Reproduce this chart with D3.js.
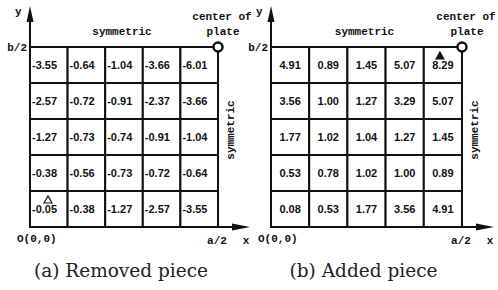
<!DOCTYPE html>
<html lang="en">
<head>
    <meta charset="UTF-8">
    <title>Removed and added piece</title>
    <script src="https://d3js.org/d3.v7.min.js"></script>
    <style>
        body { margin: 0; background: #fff; }
        .cell-text { font-family: "Liberation Sans", Arial, sans-serif; font-size: 11px; font-weight: bold; fill: #111; }
        .mono { font-family: "Liberation Mono", "DejaVu Sans Mono", monospace; font-size: 11px; font-weight: bold; fill: #111; }
        .caption { font-family: "DejaVu Serif", "Liberation Serif", serif; font-size: 18.5px; fill: #222; }
    </style>
</head>
<body>
    <svg id="chart"></svg>
    <script>
        // cell values, top row (y = b/2) first, left column (x = 0) first
        var colIds = [0, 1, 2, 3, 4];
        var rowIds = [0, 1, 2, 3, 4];
        var removedValues = [
            [-3.55, -0.64, -1.04, -3.66, -6.01],
            [-2.57, -0.72, -0.91, -2.37, -3.66],
            [-1.27, -0.73, -0.74, -0.91, -1.04],
            [-0.38, -0.56, -0.73, -0.72, -0.64],
            [-0.05, -0.38, -1.27, -2.57, -3.55]
        ];
        var addedValues = [
            [4.91, 0.89, 1.45, 5.07, 8.29],
            [3.56, 1.00, 1.27, 3.29, 5.07],
            [1.77, 1.02, 1.04, 1.27, 1.45],
            [0.53, 0.78, 1.02, 1.00, 0.89],
            [0.08, 0.53, 1.77, 3.56, 4.91]
        ];
        var captions = ['(a) Removed piece', '(b) Added piece'];

        var width = 498, height = 290;
        var svg = d3.select('#chart')
            .attr('width', width)
            .attr('height', height);

        var panels = [
            { values: removedValues, x0: 30, x1: 218, align: 'start', marker: { row: 4, col: 0, filled: false }, caption: captions[0] },
            { values: addedValues, x0: 271, x1: 462, align: 'middle', marker: { row: 0, col: 4, filled: true }, caption: captions[1] }
        ];
        var gridTop = 47, gridBottom = 227;

        panels.forEach(function (p) {
            var g = svg.append('g');
            var xScale = d3.scaleBand().domain(colIds).range([p.x0, p.x1]);
            var yScale = d3.scaleBand().domain(rowIds).range([gridTop, gridBottom]);

            // cells
            var cells = [];
            p.values.forEach(function (row, r) {
                row.forEach(function (v, c) { cells.push({ r: r, c: c, v: v }); });
            });

            g.selectAll('rect.cell')
                .data(cells)
                .enter()
                .append('rect')
                .attr('x', d => xScale(d.c))
                .attr('y', d => yScale(d.r))
                .attr('width', xScale.bandwidth())
                .attr('height', yScale.bandwidth())
                .attr('fill', '#fff')
                .attr('stroke', '#111')
                .attr('stroke-width', 2);

            g.selectAll('text.cell-text')
                .data(cells)
                .enter()
                .append('text')
                .attr('class', 'cell-text')
                .attr('x', d => p.align === 'start' ? xScale(d.c) + 2 : xScale(d.c) + xScale.bandwidth() / 2)
                .attr('y', d => yScale(d.r) + yScale.bandwidth() / 2 + 4)
                .style('text-anchor', p.align)
                .text(d => d.v.toFixed(2));

            // axes with arrows
            g.append('line')
                .attr('x1', p.x0).attr('y1', gridBottom)
                .attr('x2', p.x0).attr('y2', 14)
                .attr('stroke', '#111').attr('stroke-width', 2);
            g.append('path')
                .attr('d', 'M' + (p.x0 - 3.5) + ',22 L' + p.x0 + ',6 L' + (p.x0 + 3.5) + ',22 Z')
                .attr('fill', '#111');

            g.append('line')
                .attr('x1', p.x0).attr('y1', gridBottom)
                .attr('x2', p.x1 + 24).attr('y2', gridBottom)
                .attr('stroke', '#111').attr('stroke-width', 2);
            g.append('path')
                .attr('d', 'M' + (p.x1 + 14) + ',' + (gridBottom - 3.5) + ' L' + (p.x1 + 32) + ',' + gridBottom + ' L' + (p.x1 + 14) + ',' + (gridBottom + 3.5) + ' Z')
                .attr('fill', '#111');

            // plate centre
            g.append('circle')
                .attr('cx', p.x1).attr('cy', gridTop)
                .attr('r', 4.5)
                .attr('fill', '#fff')
                .attr('stroke', '#111')
                .attr('stroke-width', 2.5);

            // marker triangle
            var mx = p.marker.filled
                ? xScale(p.marker.col) + xScale.bandwidth() / 2 - 3
                : xScale(p.marker.col) + 18;
            var my = yScale(p.marker.row) + 9;
            g.append('path')
                .attr('d', 'M' + (mx - 4) + ',' + (my + 3) + ' L' + mx + ',' + (my - 4) + ' L' + (mx + 4) + ',' + (my + 3) + ' Z')
                .attr('fill', p.marker.filled ? '#111' : '#fff')
                .attr('stroke', '#111')
                .attr('stroke-width', 1.2);

            // labels
            g.append('text').attr('class', 'mono').attr('x', p.x0 - 15).attr('y', 15).text('y');
            g.append('text').attr('class', 'mono').attr('x', p.x0 - 3).attr('y', gridTop + 4)
                .style('text-anchor', 'end').text('b/2');
            g.append('text').attr('class', 'mono').attr('x', p.x0 - 13).attr('y', gridBottom + 15).text('O(0,0)');
            g.append('text').attr('class', 'mono').attr('x', p.x1 - 1).attr('y', gridBottom + 17)
                .style('text-anchor', 'middle').text('a/2');
            g.append('text').attr('class', 'mono').attr('x', p.x1 + 28).attr('y', gridBottom + 17)
                .style('text-anchor', 'middle').text('x');
            g.append('text').attr('class', 'mono').attr('x', (p.x0 + p.x1) / 2 - 2).attr('y', 35)
                .style('text-anchor', 'middle').text('symmetric');
            g.append('text').attr('class', 'mono').attr('x', p.x1 + 4).attr('y', 20)
                .style('text-anchor', 'middle').text('center of');
            g.append('text').attr('class', 'mono').attr('x', p.x1 + 5).attr('y', 35)
                .style('text-anchor', 'middle').text('plate');
            g.append('text').attr('class', 'mono')
                .attr('transform', 'translate(' + (p.x1 + 16) + ',' + 130 + ') rotate(-90)')
                .style('text-anchor', 'middle').text('symmetric');

            g.append('text').attr('class', 'caption')
                .attr('x', (p.x0 + p.x1) / 2 - 3).attr('y', 277)
                .style('text-anchor', 'middle').text(p.caption);
        });
    </script>
</body>
</html>
